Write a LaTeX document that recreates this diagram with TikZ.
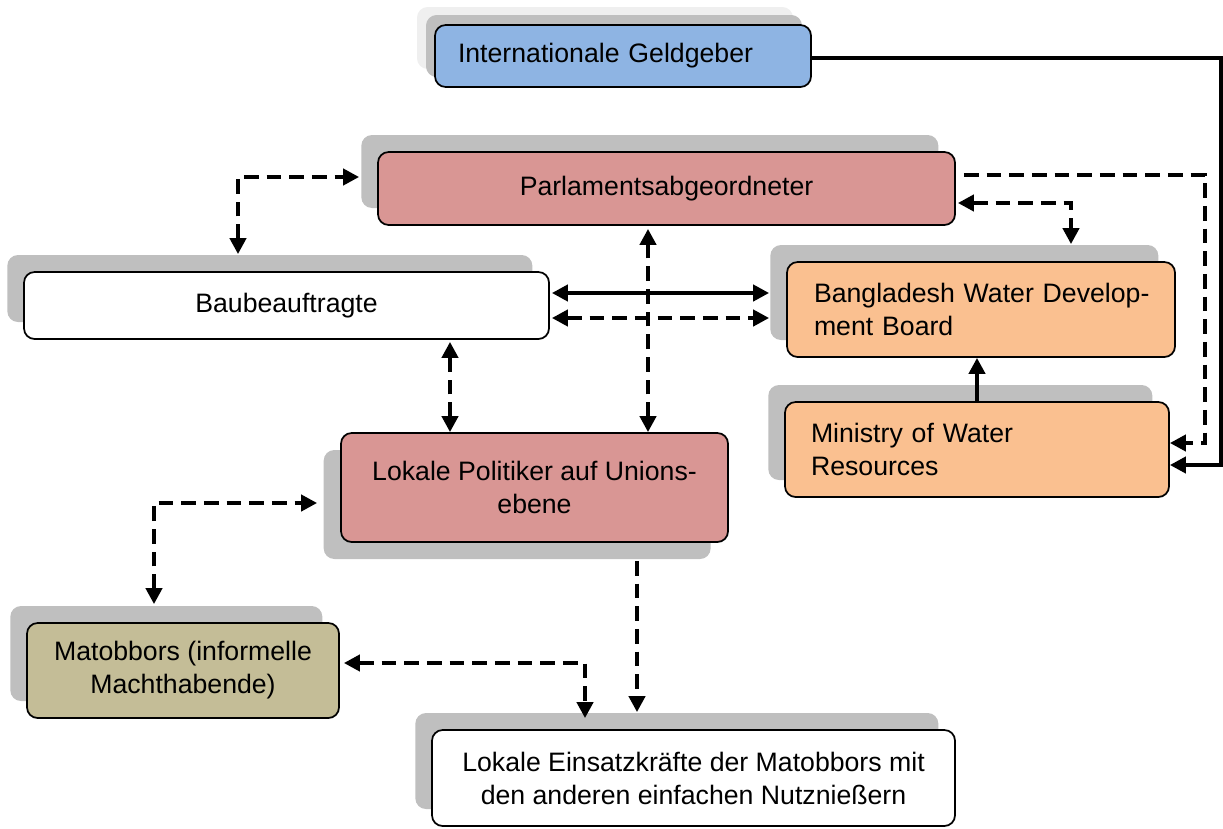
\documentclass[tikz,border=0pt]{standalone}
\usepackage{fontspec}
\setmainfont{Liberation Sans}
\usetikzlibrary{shadows,arrows.meta,calc}
\definecolor{blueF}{HTML}{8EB4E3}
\definecolor{redF}{HTML}{D99694}
\definecolor{orangeF}{HTML}{FAC090}
\definecolor{olivF}{HTML}{C4BD97}
\definecolor{shadowgray}{HTML}{BFBFBF}
\definecolor{lightshadow}{HTML}{EFEFEF}
\begin{document}
\begin{tikzpicture}[x=0.75pt,y=-0.75pt,
  >={Triangle[length=12pt,width=12pt]},
  box/.style={draw=black, line width=1.3pt, rounded corners=8pt,
    font=\fontsize{20}{24.75}\selectfont, align=center, inner sep=0pt},
  shup/.style={general shadow={fill=shadowgray, draw=none, shadow xshift=-12.5pt, shadow yshift=12.75pt}},
  shdown/.style={general shadow={fill=shadowgray, draw=none, shadow xshift=-13pt, shadow yshift=-12.75pt}},
  shintl/.style={general shadow={fill=lightshadow, draw=none, shadow xshift=-13.5pt, shadow yshift=13.5pt},
                 general shadow={fill=shadowgray, draw=none, shadow xshift=-6.75pt, shadow yshift=7.5pt}},
  solidarr/.style={line width=3pt, ->},
  solidboth/.style={line width=3pt, <->},
  dasharr/.style={line width=3pt, dash pattern=on 11pt off 6pt, ->},
  dashboth/.style={line width=3pt, dash pattern=on 11pt off 6pt, <->}
]
\useasboundingbox (0,0) rectangle (1223,828);

% nodes
\node[box, fill=blueF, shintl, align=left, text width=247.5pt, inner xsep=17.25pt, minimum height=46.5pt] (intl) at (623,56) {Internationale Geldgeber};
\node[box, fill=redF, shup, minimum width=432.75pt, minimum height=54.75pt] (parl) at (666.5,188.5) {Parlamentsabgeordneter};
\node[box, fill=white, shup, minimum width=393.75pt, minimum height=50.25pt] (baub) at (286.5,305.5) {Baubeauftragte};
\node[box, fill=orangeF, shup, align=left, text width=250.5pt, inner xsep=20.25pt, minimum height=71.25pt] (bwdb) at (981,309.5) {\mbox{Bangladesh Water Develop-}\\ment Board};
\node[box, fill=orangeF, shup, align=left, text width=249pt, inner xsep=19.5pt, minimum height=71.25pt] (minres) at (977,449.5) {Ministry of Water\\Resources};
\node[box, fill=redF, shdown, minimum width=290.25pt, minimum height=81.75pt] (lokpol) at (534.5,487.5) {Lokale Politiker auf Unions-\\ebene};
\node[box, fill=olivF, shup, minimum width=234pt, minimum height=71.25pt] (matob) at (183,670.5) {Matobbors (informelle\\Machthabende)};
\node[box, fill=white, shup, minimum width=392.25pt, minimum height=72pt] (einsatz) at (693.5,778) {Lokale Einsatzkräfte der Matobbors mit\\den anderen einfachen Nutznießern};

\coordinate (rt) at (1220.5,0);
\coordinate (rd) at (1205,0);

% connectors
\draw[solidarr] ($(intl.east)+(0,2)$) coordinate (a0) -- (a0 -| rt) |- ($(minres.east)+(0,15.5)$);
\draw[dasharr] ($(parl.east)+(8,-13.5)$) coordinate (b0) -- (b0 -| rd) |- ($(minres.east)+(0,-6.5)$);
\draw[dashboth] ($(parl.east)+(2,14.5)$) -| ($(bwdb.north)+(90,-17)$);
\draw[solidarr] (minres.north) -- (minres.north |- bwdb.south);
\draw[solidboth] ($(baub.east)+(2,-12.5)$) -- ($(baub.east -| bwdb.west)+(-17,-12.5)$);
\draw[dashboth] ($(baub.east)+(2,12.5)$) -- ($(baub.east -| bwdb.west)+(-17,12.5)$);
\draw[dashboth] ($(lokpol.north)+(113.5,0)$) coordinate (g0) -- ($(g0 |- parl.south)+(0,3)$);
\draw[dashboth] ($(lokpol.north)+(-84.5,0)$) coordinate (h0) -- ($(h0 |- baub.south)+(0,2)$);
\draw[dashboth] ($(baub.north)+(-48.5,-17)$) |- ($(parl.west)+(-18,-11.5)$);
\draw[dashboth] ($(matob.north)+(-29,-18)$) |- ($(lokpol.west)+(-23,15.5)$);
\draw[dasharr] ($(lokpol.south)+(102.5,18)$) coordinate (k0) -- ($(k0 |- einsatz.north)+(0,-17)$);
\draw[dashboth] ($(matob.east)+(4,-7.5)$) -| ($(einsatz.north)+(-108.5,-11)$);
\end{tikzpicture}
\end{document}
